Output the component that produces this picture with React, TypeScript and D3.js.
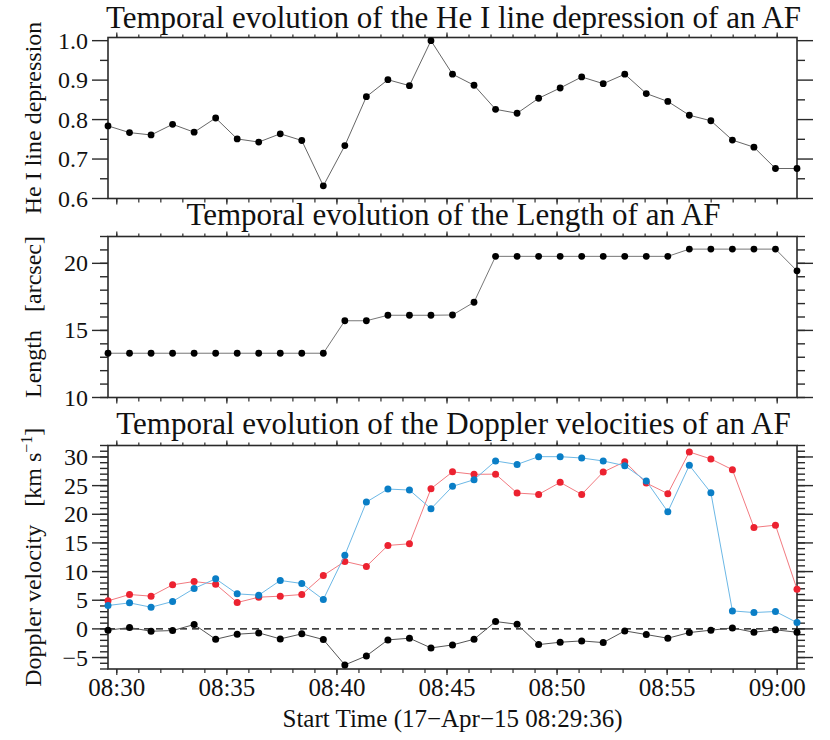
import React from "react";
import * as d3 from "d3";

// ---- data ----
const startLabel = "08:29:36";
const startMinuteOffset = 0.4; // 08:30 is 24 s after start
const cadenceMin = 31.3 / 32; // ~58.7 s between frames

const heDepression = [
  0.784, 0.767, 0.761, 0.788, 0.768, 0.804, 0.751, 0.743, 0.764, 0.747, 0.632,
  0.734, 0.858, 0.901, 0.886, 1.0, 0.915, 0.887, 0.826, 0.816, 0.854, 0.88,
  0.908, 0.891, 0.915, 0.866, 0.846, 0.811, 0.797, 0.748, 0.73, 0.676, 0.676,
];

const lengthArcsec = [
  13.3, 13.3, 13.3, 13.3, 13.3, 13.3, 13.3, 13.3, 13.3, 13.3, 13.3, 15.72,
  15.72, 16.13, 16.13, 16.13, 16.15, 17.1, 20.52, 20.52, 20.52, 20.52, 20.52,
  20.52, 20.52, 20.52, 20.52, 21.06, 21.06, 21.06, 21.06, 21.06, 19.44,
];

const dopplerRed = [
  4.89, 6.0, 5.71, 7.69, 8.27, 7.8, 4.6, 5.53, 5.71, 6.0, 9.32, 11.77, 10.9,
  14.56, 14.85, 24.46, 27.4, 26.97, 27.0, 23.7, 23.47, 25.57, 23.47, 27.37,
  29.17, 25.45, 23.6, 30.87, 29.65, 27.78, 17.7, 18.1, 6.93,
];

const dopplerBlue = [
  4.08, 4.54, 3.78, 4.78, 7.05, 8.74, 6.11, 5.88, 8.45, 7.92, 5.13, 12.87,
  22.13, 24.4, 24.23, 20.96, 24.87, 26.03, 29.3, 28.7, 30.05, 30.05, 29.82,
  29.3, 28.48, 25.8, 20.44, 28.54, 23.76, 3.14, 2.85, 3.03, 1.1,
];

const dopplerBlack = [
  -0.23, 0.23, -0.41, -0.29, 0.76, -1.81, -0.93, -0.7, -1.75, -0.87, -1.86,
  -6.29, -4.72, -1.92, -1.63, -3.32, -2.8, -1.81, 1.28, 0.81, -2.74, -2.33,
  -2.1, -2.39, -0.35, -0.99, -1.63, -0.64, -0.23, 0.17, -0.58, -0.17, -0.58,
];

const xTickLabels = ["08:30", "08:35", "08:40", "08:45", "08:50", "08:55", "09:00"];

const titles = [
  "Temporal evolution of the He I line depression of an AF",
  "Temporal evolution of the Length of an AF",
  "Temporal evolution of the Doppler velocities of an AF",
];

// ---- layout ----
const W = 830;
const H = 740;
const X0 = 108;
const X1 = 797;
const FONT = "'Liberation Serif', 'Times New Roman', 'DejaVu Serif', serif";
const AX = "#2a2a2a";

const x = d3.scaleLinear().domain([0, 31.3]).range([X0, X1]);
const tOf = (i: number) => i * cadenceMin;

const majorX = xTickLabels.map((_, k) => startMinuteOffset + 5 * k);
const minorX = d3.range(0, 31).map((k) => startMinuteOffset + k);

type Panel = {
  top: number;
  bottom: number;
  domain: [number, number];
  majors: number[];
  minors: number[];
  fmt: (v: number) => string;
};

const minusFmt = (v: number) => (v < 0 ? "\u2212" + Math.abs(v) : String(v));

const panels: Panel[] = [
  {
    top: 37.5,
    bottom: 198.5,
    domain: [0.6, 1.008],
    majors: [0.6, 0.7, 0.8, 0.9, 1.0],
    minors: [0.65, 0.75, 0.85, 0.95],
    fmt: (v) => d3.format(".1f")(v),
  },
  {
    top: 236.5,
    bottom: 397.5,
    domain: [10, 22],
    majors: [10, 15, 20],
    minors: d3.range(10, 23),
    fmt: (v) => String(v),
  },
  {
    top: 445.5,
    bottom: 669,
    domain: [-7, 32],
    majors: [-5, 0, 5, 10, 15, 20, 25, 30],
    minors: d3.range(-7, 33),
    fmt: minusFmt,
  },
];

function Frame({ p, yScale, showXLabels }: { p: Panel; yScale: d3.ScaleLinear<number, number>; showXLabels: boolean }) {
  return (
    <g>
      <rect x={X0} y={p.top} width={X1 - X0} height={p.bottom - p.top} fill="none" stroke={AX} strokeWidth={1.6} />
      {p.minors.map((v) => (
        <g key={"mn" + v}>
          <line x1={X0 - 8} x2={X0} y1={yScale(v)} y2={yScale(v)} stroke={AX} strokeWidth={1.4} />
          <line x1={X1} x2={X1 + 8} y1={yScale(v)} y2={yScale(v)} stroke={AX} strokeWidth={1.4} />
        </g>
      ))}
      {p.majors.map((v) => (
        <g key={"mj" + v}>
          <line x1={X0 - 16} x2={X0} y1={yScale(v)} y2={yScale(v)} stroke={AX} strokeWidth={1.4} />
          <line x1={X1} x2={X1 + 16} y1={yScale(v)} y2={yScale(v)} stroke={AX} strokeWidth={1.4} />
          <text x={X0 - 20} y={yScale(v) + 8} textAnchor="end" fontSize={24} fontFamily={FONT} fill="#111">
            {p.fmt(v)}
          </text>
        </g>
      ))}
      {minorX.map((m) => (
        <g key={"xm" + m}>
          <line x1={x(m)} x2={x(m)} y1={p.top} y2={p.top - 3} stroke={AX} strokeWidth={1.2} />
          <line x1={x(m)} x2={x(m)} y1={p.bottom} y2={p.bottom + 4} stroke={AX} strokeWidth={1.2} />
        </g>
      ))}
      {majorX.map((m, k) => (
        <g key={"xM" + m}>
          <line x1={x(m)} x2={x(m)} y1={p.top} y2={p.top - 5} stroke={AX} strokeWidth={1.2} />
          <line x1={x(m)} x2={x(m)} y1={p.bottom} y2={p.bottom + 6} stroke={AX} strokeWidth={1.2} />
          {showXLabels && (
            <text x={x(m)} y={p.bottom + 27} textAnchor="middle" fontSize={25} fontFamily={FONT} fill="#111">
              {xTickLabels[k]}
            </text>
          )}
        </g>
      ))}
    </g>
  );
}

function Series({ values, yScale, line, dot, r }: { values: number[]; yScale: d3.ScaleLinear<number, number>; line: string; dot: string; r: number }) {
  const gen = d3
    .line<number>()
    .x((_, i) => x(tOf(i)))
    .y((v) => yScale(v));
  return (
    <g>
      <path d={gen(values) ?? ""} fill="none" stroke={line} strokeWidth={1} />
      {values.map((v, i) => (
        <circle key={i} cx={x(tOf(i))} cy={yScale(v)} r={r} fill={dot} />
      ))}
    </g>
  );
}

export default function App() {
  const ys = panels.map((p) => d3.scaleLinear().domain(p.domain).range([p.bottom, p.top]));
  const titleY = [28, 225, 434];
  return (
    <svg width={W} height={H} viewBox={`0 0 ${W} ${H}`} style={{ position: "absolute", left: 0, top: 0, display: "block", background: "#fff" }}>
      <rect width={W} height={H} fill="#fff" />
      {titles.map((t, i) => (
        <text key={t} x={(X0 + X1) / 2 + 1} y={titleY[i]} textAnchor="middle" fontSize={31} fontFamily={FONT} fill="#111">
          {t}
        </text>
      ))}
      {panels.map((p, i) => (
        <Frame key={i} p={p} yScale={ys[i]} showXLabels={i === 2} />
      ))}

      <Series values={heDepression} yScale={ys[0]} line="#666" dot="#000" r={3.4} />
      <Series values={lengthArcsec} yScale={ys[1]} line="#777" dot="#000" r={3.4} />

      <line x1={X0} x2={X1} y1={ys[2](0)} y2={ys[2](0)} stroke="#000" strokeWidth={1.3} strokeDasharray="7,5" />
      <Series values={dopplerRed} yScale={ys[2]} line="#f27a80" dot="#ec2230" r={3.5} />
      <Series values={dopplerBlue} yScale={ys[2]} line="#6cb8e6" dot="#0a7ec6" r={3.5} />
      <Series values={dopplerBlack} yScale={ys[2]} line="#555" dot="#000" r={3.5} />

      {/* y-axis titles */}
      <text transform={`translate(41,${(panels[0].top + panels[0].bottom) / 2}) rotate(-90)`} textAnchor="middle" fontSize={24} fontFamily={FONT} fill="#111">
        He I line depression
      </text>
      <text transform={`translate(41,${(panels[1].top + panels[1].bottom) / 2}) rotate(-90)`} textAnchor="middle" fontSize={24} fontFamily={FONT} fill="#111" style={{ whiteSpace: "pre" }}>
        {"Length   [arcsec]"}
      </text>
      <text transform={`translate(41,${(panels[2].top + panels[2].bottom) / 2}) rotate(-90)`} textAnchor="middle" fontSize={24} fontFamily={FONT} fill="#111" style={{ whiteSpace: "pre" }}>
        {"Doppler velocity   [km s"}
        <tspan dy={-9} fontSize={16}>{"\u22121"}</tspan>
        <tspan dy={9}>{"]"}</tspan>
      </text>

      <text x={(X0 + X1) / 2} y={727} textAnchor="middle" fontSize={25} fontFamily={FONT} fill="#111">
        {`Start Time (17\u2212Apr\u221215 ${startLabel})`}
      </text>
    </svg>
  );
}
